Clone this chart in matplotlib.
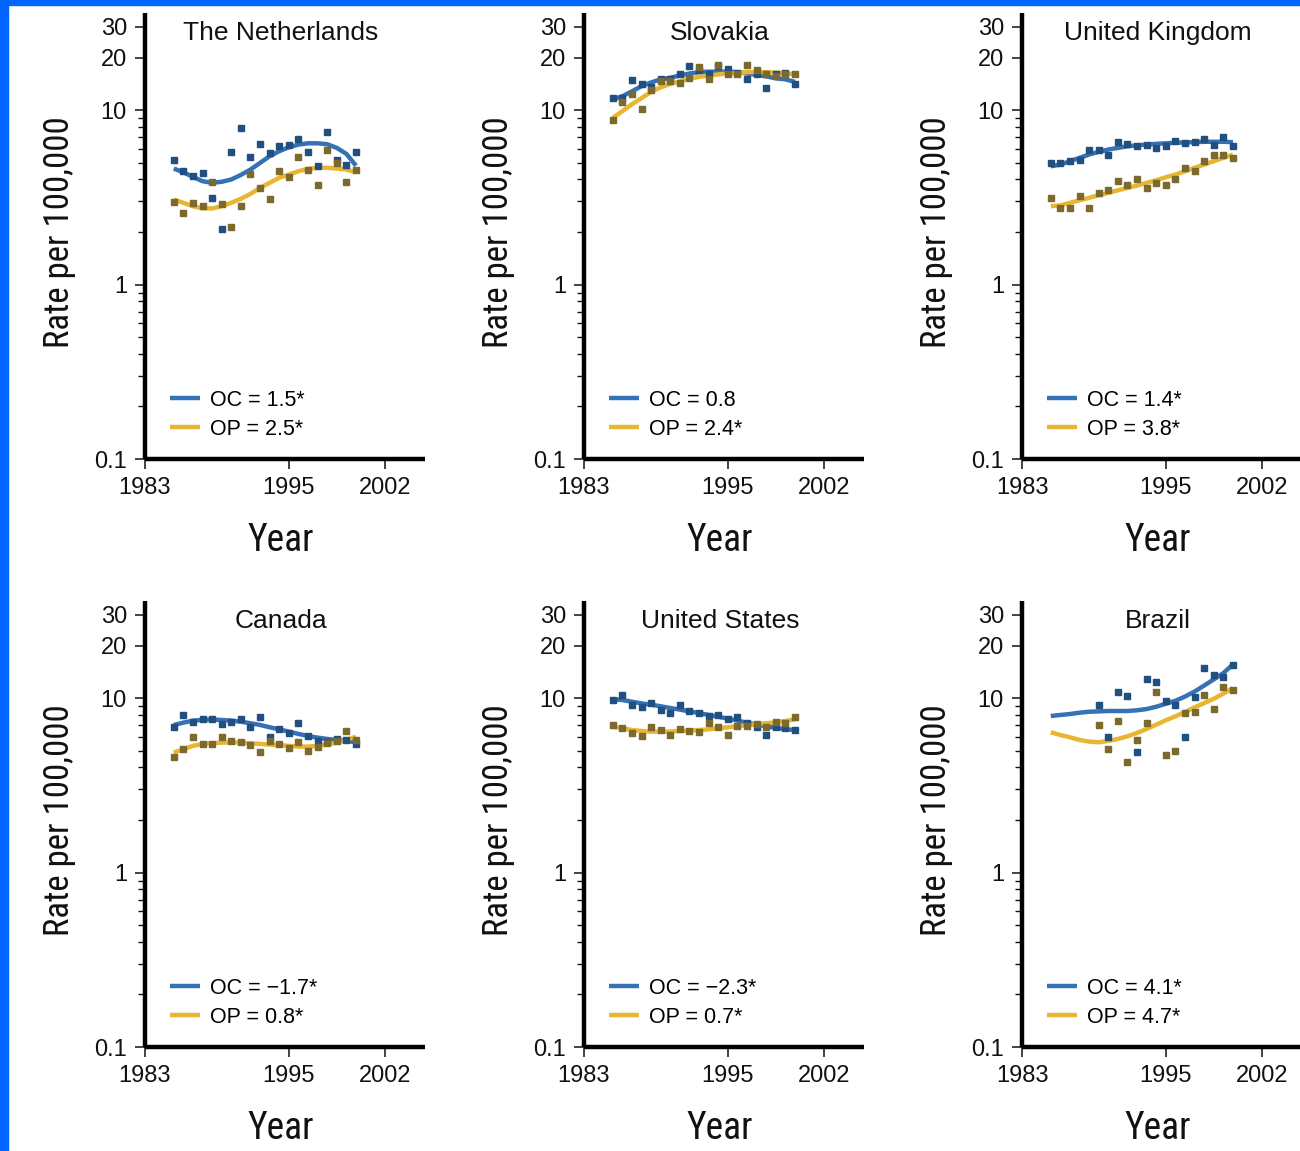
import matplotlib
matplotlib.use("Agg")
import matplotlib.pyplot as plt
from matplotlib import font_manager as fm
from matplotlib.patches import Rectangle
from matplotlib.ticker import FixedLocator, NullFormatter

# ---------------- data ----------------
years = [1983, 1984, 1985, 1986, 1987, 1988, 1989, 1990, 1991, 1992,
         1993, 1994, 1995, 1996, 1997, 1998, 1999, 2000, 2001, 2002]
brazil_point_years = [1988, 1989, 1990, 1991, 1992, 1993, 1994, 1995,
                      1996, 1997, 1998, 1999, 2000, 2001, 2002]

countries = ["The Netherlands", "Slovakia", "United Kingdom",
             "Canada", "United States", "Brazil"]

nl_oc_pts = [5.16, 4.46, 4.18, 4.33, 3.12, 2.07, 5.76, 7.87, 5.39, 6.43,
             5.69, 6.20, 6.32, 6.87, 5.76, 4.76, 7.46, 5.14, 4.87, 5.76]
nl_op_pts = [2.98, 2.58, 2.94, 2.81, 3.89, 2.90, 2.14, 2.81, 4.29, 3.56,
             3.10, 4.48, 4.12, 5.37, 4.52, 3.73, 5.88, 4.98, 3.86, 4.52]
nl_oc_fit = [4.62, 4.40, 4.14, 3.91, 3.83, 3.88, 4.00, 4.25, 4.56, 4.98,
             5.44, 5.81, 6.12, 6.34, 6.45, 6.45, 6.37, 6.07, 5.61, 4.80]
nl_op_fit = [3.07, 2.94, 2.81, 2.73, 2.73, 2.81, 2.94, 3.10, 3.31, 3.58,
             3.83, 4.09, 4.27, 4.46, 4.60, 4.67, 4.67, 4.62, 4.56, 4.40]

sk_oc_pts = [11.7, 11.8, 14.8, 14.1, 13.6, 15.0, 15.0, 16.1, 18.0, 16.9,
             16.1, 18.0, 17.2, 16.3, 15.0, 16.0, 13.4, 16.0, 16.3, 14.1]
sk_op_pts = [8.82, 11.1, 12.4, 10.2, 13.1, 14.6, 14.6, 14.3, 15.3, 17.7,
             15.1, 18.2, 16.0, 16.2, 18.2, 16.9, 16.0, 15.6, 16.2, 16.0]
sk_oc_fit = [11.5, 12.0, 12.8, 13.7, 14.4, 15.0, 15.3, 15.8, 16.2, 16.5,
             16.6, 16.6, 16.6, 16.5, 16.2, 15.9, 15.6, 15.2, 15.0, 14.5]
sk_op_fit = [9.02, 9.85, 10.8, 11.7, 12.7, 13.5, 14.1, 14.6, 15.1, 15.5,
             15.8, 16.0, 16.2, 16.3, 16.5, 16.5, 16.5, 16.4, 16.3, 16.0]

uk_oc_pts = [4.98, 4.98, 5.09, 5.20, 5.94, 5.94, 5.56, 6.54, 6.40, 6.26,
             6.28, 6.07, 6.20, 6.63, 6.49, 6.60, 6.84, 6.34, 7.02, 6.26]
uk_op_pts = [3.12, 2.75, 2.73, 3.21, 2.75, 3.35, 3.50, 3.91, 3.74, 4.03,
             3.58, 3.83, 3.74, 4.00, 4.67, 4.46, 5.09, 5.56, 5.49, 5.32]
uk_oc_fit = [4.76, 4.87, 5.09, 5.32, 5.56, 5.76, 5.94, 6.07, 6.20, 6.28,
             6.34, 6.40, 6.45, 6.49, 6.53, 6.54, 6.58, 6.58, 6.58, 6.54]
uk_op_fit = [2.81, 2.84, 2.94, 3.04, 3.14, 3.25, 3.35, 3.47, 3.58, 3.69,
             3.83, 3.96, 4.12, 4.27, 4.46, 4.67, 4.87, 5.09, 5.32, 5.56]

ca_oc_pts = [6.80, 7.96, 7.26, 7.56, 7.56, 7.10, 7.26, 7.56, 6.80, 7.76,
             5.96, 6.62, 6.28, 7.17, 6.09, 5.68, 5.63, 5.81, 5.75, 5.44]
ca_op_pts = [4.62, 5.09, 5.96, 5.44, 5.44, 5.96, 5.68, 5.63, 5.39, 4.93,
             5.68, 5.44, 5.16, 5.58, 5.00, 5.27, 5.51, 5.68, 6.48, 5.75]
ca_oc_fit = [7.01, 7.23, 7.42, 7.49, 7.52, 7.49, 7.42, 7.32, 7.17, 7.01,
             6.80, 6.62, 6.42, 6.23, 6.06, 5.93, 5.83, 5.75, 5.68, 5.58]
ca_op_fit = [4.87, 5.09, 5.32, 5.46, 5.51, 5.55, 5.58, 5.55, 5.51, 5.46,
             5.41, 5.37, 5.32, 5.27, 5.27, 5.32, 5.41, 5.55, 5.75, 6.01]

us_oc_pts = [9.74, 10.4, 9.12, 8.92, 9.32, 8.54, 8.18, 9.12, 8.46, 8.24,
             7.89, 8.00, 7.56, 7.76, 7.17, 6.80, 6.14, 6.80, 6.71, 6.56]
us_op_pts = [7.01, 6.76, 6.28, 6.06, 6.85, 6.56, 6.14, 6.62, 6.48, 6.42,
             7.23, 6.80, 6.14, 6.92, 6.92, 7.10, 6.80, 7.32, 7.17, 7.82]
us_oc_fit = [9.87, 9.74, 9.53, 9.32, 9.16, 8.97, 8.77, 8.58, 8.39, 8.21,
             8.00, 7.82, 7.62, 7.42, 7.23, 7.04, 6.89, 6.74, 6.62, 6.56]
us_op_fit = [6.85, 6.71, 6.56, 6.48, 6.42, 6.42, 6.42, 6.48, 6.51, 6.56,
             6.62, 6.71, 6.80, 6.89, 6.98, 7.07, 7.17, 7.26, 7.39, 7.56]

br_oc_pts = [9.12, 5.96, 10.9, 10.3, 4.93, 12.8, 12.3, 9.58, 9.12, 6.01,
             10.2, 14.9, 13.5, 13.2, 15.4]
br_op_pts = [7.01, 5.09, 7.42, 4.29, 5.75, 7.17, 10.8, 4.72, 5.00, 8.24,
             8.35, 10.4, 8.62, 11.5, 11.1]
br_oc_fit = [7.89, 8.00, 8.10, 8.24, 8.35, 8.39, 8.43, 8.43, 8.43, 8.51,
             8.65, 8.92, 9.28, 9.65, 10.2, 10.9, 11.8, 12.8, 13.9, 15.6]
br_op_fit = [6.37, 6.14, 5.96, 5.75, 5.63, 5.58, 5.68, 5.83, 6.04, 6.31,
             6.65, 7.04, 7.46, 7.86, 8.32, 8.85, 9.36, 9.91, 10.6, 11.4]

oc_labels = ["OC = 1.5*", "OC = 0.8", "OC = 1.4*",
             "OC = \u22121.7*", "OC = \u22122.3*", "OC = 4.1*"]
op_labels = ["OP = 2.5*", "OP = 2.4*", "OP = 3.8*",
             "OP = 0.8*", "OP = 0.7*", "OP = 4.7*"]

x_tick_labels = ["1983", "1995", "2002"]
y_tick_values = [0.1, 1, 10, 20, 30]
y_tick_labels = ["0.1", "1", "10", "20", "30"]

# ---------------- fonts ----------------
names = {f.name for f in fm.fontManager.ttflist}
REG = "Liberation Sans" if "Liberation Sans" in names else "DejaVu Sans"
plt.rcParams["font.family"] = [REG, "DejaVu Sans"]


def find_condensed():
    prefs = ["Liberation Sans Narrow", "Roboto Condensed", "Open Sans Condensed",
             "Noto Sans Condensed", "DejaVu Sans Condensed", "DejaVu Sans"]
    cands = []
    for f in fm.fontManager.ttflist:
        w = f.weight
        wnum = w if isinstance(w, int) else {"normal": 400, "regular": 400,
                                              "book": 400, "medium": 500}.get(str(w).lower(), 700)
        if f.style != "normal" or wnum < 350 or wnum > 450:
            continue
        cond = ("Narrow" in f.name or "Condensed" in f.name or
                "Narrow" in f.fname or "Condensed" in f.fname or
                str(f.stretch) in ("condensed", "semi-condensed", "extra-condensed"))
        if not cond:
            continue
        rank = len(prefs)
        for k, p in enumerate(prefs):
            if f.name.startswith(p):
                rank = k
                break
        if "Semi" in f.fname or "Extra" in f.fname:
            rank += 0.5
        cands.append((rank, f.fname))
    if cands:
        cands.sort()
        return cands[0][1]
    return None


cond_path = find_condensed()
if cond_path:
    def label_fp(size):
        return fm.FontProperties(fname=cond_path, size=size)
    LABEL_SIZE = 25
else:
    def label_fp(size):
        return fm.FontProperties(family=REG, size=size)
    LABEL_SIZE = 23

BLUE_LINE = "#3571b5"
YEL_LINE = "#e9b631"
BLUE_PT = "#214f80"
YEL_PT = "#7c6a2d"
TXT = "#111111"

W, H = 1300, 1151
fig = plt.figure(figsize=(W / 100, H / 100), dpi=100)
fig.patch.set_facecolor("white")
fig.add_artist(Rectangle((0, 0), 8 / W, 1, transform=fig.transFigure,
                         color="#0064ff", zorder=10))
fig.add_artist(Rectangle((0, 1 - 5 / H), 1, 5 / H, transform=fig.transFigure,
                         color="#0064ff", zorder=10))

col_left = [145, 584, 1022]
row_top = [13, 601]
aw, ah = 280, 446

series = [
    (nl_oc_pts, nl_op_pts, nl_oc_fit, nl_op_fit, years),
    (sk_oc_pts, sk_op_pts, sk_oc_fit, sk_op_fit, years),
    (uk_oc_pts, uk_op_pts, uk_oc_fit, uk_op_fit, years),
    (ca_oc_pts, ca_op_pts, ca_oc_fit, ca_op_fit, years),
    (us_oc_pts, us_op_pts, us_oc_fit, us_op_fit, years),
    (br_oc_pts, br_op_pts, br_oc_fit, br_op_fit, brazil_point_years),
]

minor_vals = [m * d for d in (0.1, 1, 10) for m in range(2, 10) if m * d < 36]

for i, name in enumerate(countries):
    r, c = divmod(i, 3)
    l, t = col_left[c], row_top[r]
    ax = fig.add_axes([l / W, 1 - (t + ah) / H, aw / W, ah / H])
    oc_p, op_p, oc_f, op_f, pyears = series[i]

    l1, = ax.plot(years, oc_f, color=BLUE_LINE, lw=3.2, solid_capstyle="butt", zorder=2)
    l2, = ax.plot(years, op_f, color=YEL_LINE, lw=3.2, solid_capstyle="butt", zorder=2)
    ax.plot(pyears, oc_p, ls="none", marker="s", ms=3.9, color=BLUE_PT,
            mec=BLUE_PT, zorder=3)
    ax.plot(pyears, op_p, ls="none", marker="s", ms=3.9, color=YEL_PT,
            mec=YEL_PT, zorder=3)

    ax.set_yscale("log")
    ax.set_ylim(0.1, 36)
    ax.set_xlim(1980.0, 2009.2)

    ax.yaxis.set_major_locator(FixedLocator(y_tick_values))
    ax.set_yticklabels(y_tick_labels)
    ax.yaxis.set_minor_locator(FixedLocator(minor_vals))
    ax.yaxis.set_minor_formatter(NullFormatter())
    ax.set_xticks([1980, 1995, 2005])
    ax.set_xticklabels(x_tick_labels)

    for s in ("top", "right"):
        ax.spines[s].set_visible(False)
    for s in ("left", "bottom"):
        ax.spines[s].set_linewidth(3.2)
        ax.spines[s].set_capstyle("butt")
    ax.tick_params(axis="both", which="major", length=7, width=1.1,
                   labelsize=17, pad=6, direction="out", colors=TXT)
    ax.tick_params(axis="y", which="minor", length=5, width=1.0,
                   direction="out", colors=TXT)

    ax.text(0.486, 0.955, name, transform=ax.transAxes, ha="center",
            va="center", fontsize=19, color=TXT)

    ax.set_ylabel("Rate per 100,000", fontproperties=label_fp(LABEL_SIZE),
                  color=TXT)
    ax.yaxis.set_label_coords(-0.248, 0.509)
    ax.set_xlabel("Year", fontproperties=label_fp(LABEL_SIZE + 2), color=TXT)
    ax.xaxis.set_label_coords(0.486, -0.141)

    ax.legend([l1, l2], [oc_labels[i], op_labels[i]], loc="lower left",
              bbox_to_anchor=(0.089, 0.043), frameon=False, fontsize=15.5,
              handlelength=1.4, handletextpad=0.45, labelspacing=0.38,
              borderpad=0, borderaxespad=0)

fig.savefig("out.png", dpi=100, facecolor="white")
